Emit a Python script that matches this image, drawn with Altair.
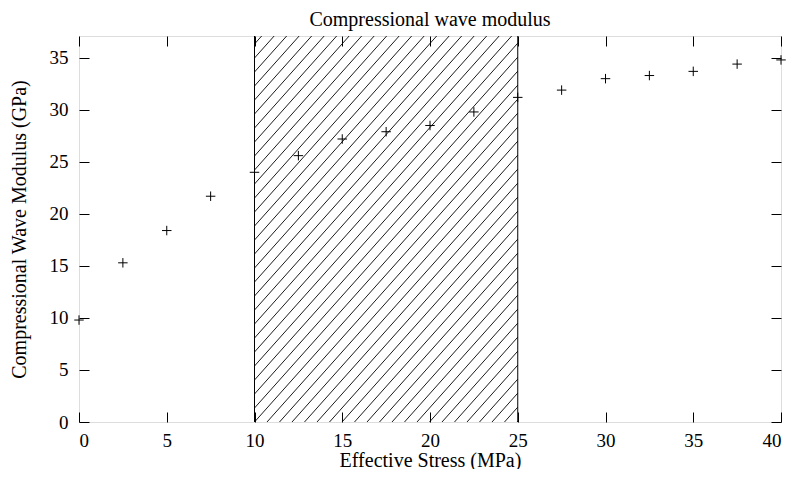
import altair as alt
import pandas as pd

# ---- data ----
stress = [0, 2.5, 5, 7.5, 10, 12.5, 15, 17.5, 20, 22.5, 25, 27.5, 30, 32.5, 35, 37.5, 40]
modulus = [9.8, 15.3, 18.4, 21.7, 24.0, 25.6, 27.2, 27.9, 28.5, 29.8, 31.2, 31.9, 33.0, 33.3, 33.7, 34.4, 34.8]
band_start = [10]
band_end = [25]
x_ticks = [0, 5, 10, 15, 20, 25, 30, 35, 40]
y_ticks = [0, 5, 10, 15, 20, 25, 30, 35]

X_MIN, X_MAX = 0, 40
Y_MIN, Y_MAX = 0, 37.1
W, H = 702, 386
FONT = "Liberation Serif"

df = pd.DataFrame({"stress": stress, "modulus": modulus})
band_df = pd.DataFrame({"edge": band_start + band_end})

# hatch lines for the shaded band
px_per_x = W / (X_MAX - X_MIN)
px_per_y = H / (Y_MAX - Y_MIN)
screen_slope = 1.12          # rise over run on screen
k = screen_slope * px_per_x / px_per_y
step = 12.5 / px_per_x       # horizontal spacing of ~12.5 px
x0, x1 = band_start[0], band_end[0]
rows = []
n = -int((Y_MAX / k) / step) - 1
while True:
    c = x0 + n * step
    if c >= x1:
        break
    xa = max(x0, c)
    xb = min(x1, c + Y_MAX / k)
    if xb > xa:
        rows.append({"xa": xa, "ya": k * (xa - c), "xb": xb, "yb": k * (xb - c)})
    n += 1
hatch_df = pd.DataFrame(rows)

xs = alt.Scale(domain=[X_MIN, X_MAX], nice=False, zero=False)
ys = alt.Scale(domain=[Y_MIN, Y_MAX], nice=False, zero=False)

common_axis = dict(
    domain=False, grid=False, tickSize=10, tickColor="black", tickWidth=1,
    labelFont=FONT, labelFontSize=19, labelColor="black",
    titleFont=FONT, titleFontSize=20, titleColor="black", titleFontWeight="normal",
    offset=-10,
)

x_axis = alt.Axis(values=x_ticks, orient="bottom", title="Effective Stress (MPa)",
                  labelPadding=9, titlePadding=0, **common_axis)
y_axis = alt.Axis(values=y_ticks, orient="left", title="Compressional Wave Modulus (GPa)",
                  labelPadding=11, titlePadding=20, **common_axis)
x_axis_top = alt.Axis(values=x_ticks, orient="top", labels=False, **common_axis)
y_axis_right = alt.Axis(values=y_ticks, orient="right", labels=False, **common_axis)

hatch = alt.Chart(hatch_df).mark_rule(color="black", strokeWidth=0.9).encode(
    x=alt.X("xa:Q", scale=xs, axis=x_axis),
    y=alt.Y("ya:Q", scale=ys, axis=y_axis),
    x2="xb:Q",
    y2="yb:Q",
)

edges = alt.Chart(band_df).mark_rule(color="black", strokeWidth=1).encode(
    x=alt.X("edge:Q", scale=xs, axis=None),
)

mirror = alt.Chart(df).mark_point(opacity=0).encode(
    x=alt.X("stress:Q", scale=xs, axis=x_axis_top, title=""),
    y=alt.Y("modulus:Q", scale=ys, axis=y_axis_right, title=""),
)

points = alt.Chart(df).mark_point(
    shape="M-1,0H1M0,-1V1", filled=False, stroke="black", strokeWidth=1, size=90, opacity=1,
).encode(
    x=alt.X("stress:Q", scale=xs, axis=None),
    y=alt.Y("modulus:Q", scale=ys, axis=None),
)

chart = alt.layer(hatch, edges, mirror, points).resolve_axis(
    x="independent", y="independent"
).properties(
    width=W, height=H,
    title=alt.TitleParams("Compressional wave modulus", font=FONT, fontSize=20,
                          fontWeight="normal", color="black", anchor="middle",
                          offset=6),
    autosize=alt.AutoSizeParams(type="none"),
    padding={"left": 71, "top": 28, "right": 7, "bottom": 47},
).configure_view(stroke="black", strokeWidth=1).configure(background="white")

chart.save("out.html", embed_options={"renderer": "svg", "actions": False})
